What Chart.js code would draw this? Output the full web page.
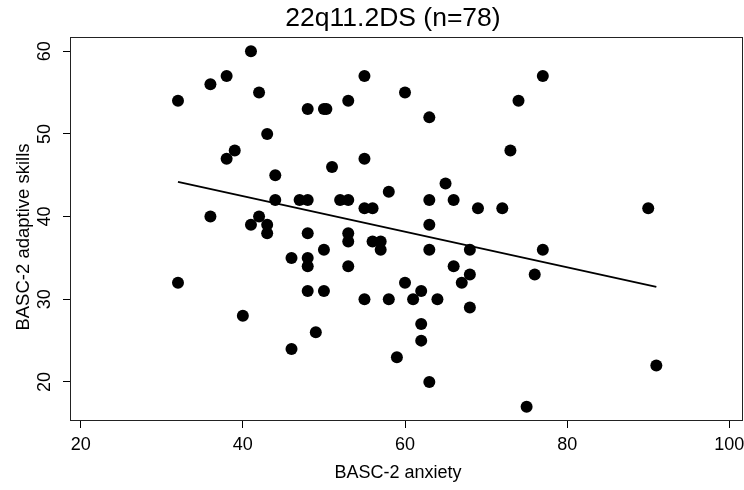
<!DOCTYPE html>
<html><head><meta charset="utf-8">
<script src="https://cdn.jsdelivr.net/npm/chart.js@4/dist/chart.umd.min.js"></script>
<style>html,body{margin:0;padding:0;background:#fff;} canvas{display:block;}</style>
</head><body>
<canvas id="c" width="744" height="490"></canvas>
<script>
const chartTitle = '22q11.2DS (n=78)';
const xAxisTitle = 'BASC-2 anxiety';
const yAxisTitle = 'BASC-2 adaptive skills';

const anxiety = [41,36,38,32,42,48,50,50.3,53,43,39,38,51,44,44,47,48,52,53,36,42,41,43,
  55,60,63,74,77,55,73,65,58,63,66,55,56,69,72,63,90,
  43,48,53,53,50,46,48,48,53,32,48,50,40,49,46,
  56,57,57,63,68,66,68,67,76,60,62,55,58,61,64,68,62,62,59,63,75,77,91];
const adaptive = [60,56,57,54,55,53,53,53,54,50,48,47,46,45,42,42,42,42,42,40,40,39,39,
  57,55,52,54,57,47,48,44,43,42,42,41,41,41,41,39,41,
  38,38,38,37,36,35,35,34,34,32,31,31,28,26,24,
  37,37,36,36,36,34,33,32,33,32,31,30,30,30,30,29,27,25,23,20,17,36,22];

const fitX = [32, 91];
const fitY = [44.2, 31.5];

const xTicks = [20, 40, 60, 80, 100];
const yTicks = [20, 30, 40, 50, 60];

const FONT = '"Liberation Sans", Arial, Helvetica, sans-serif';

const points = anxiety.map((x, i) => ({x: x, y: adaptive[i]}));
const fitLine = fitX.map((x, i) => ({x: x, y: fitY[i]}));

const boxPlugin = {
  id: 'box',
  beforeDatasetsDraw(chart) {
    const a = chart.chartArea, ctx = chart.ctx;
    ctx.save();
    ctx.strokeStyle = '#222';
    ctx.lineWidth = 1;
    ctx.strokeRect(a.left + 0.5, a.top + 0.5, a.right - a.left - 1, a.bottom - a.top - 1);
    ctx.restore();
  }
};
const textPlugin = {
  id: 'texts',
  afterDraw(chart) {
    const ctx = chart.ctx;
    ctx.save();
    ctx.fillStyle = '#000';
    ctx.textAlign = 'center';
    ctx.textBaseline = 'middle';
    ctx.font = '26.5px ' + FONT;
    ctx.fillText(chartTitle, 393, 19);
    ctx.font = '18px ' + FONT;
    ctx.fillText(xAxisTitle, 398, 473);
    ctx.translate(24, 237);
    ctx.rotate(-Math.PI / 2);
    ctx.font = '18.5px ' + FONT;
    ctx.fillText(yAxisTitle, 0, 0);
    ctx.restore();
  }
};

new Chart(document.getElementById('c'), {
  type: 'scatter',
  data: {
    datasets: [
      {
        type: 'scatter',
        data: points,
        backgroundColor: '#000',
        borderColor: '#000',
        borderWidth: 0,
        pointRadius: 6,
        pointHoverRadius: 6
      },
      {
        type: 'line',
        data: fitLine,
        borderColor: '#000',
        borderWidth: 2,
        pointRadius: 0,
        fill: false,
        tension: 0
      }
    ]
  },
  options: {
    responsive: false,
    devicePixelRatio: 1,
    animation: false,
    layout: {autoPadding: false, padding: {top: 37, right: 1, left: 0, bottom: 0}},
    plugins: {legend: {display: false}, tooltip: {enabled: false}, title: {display: false}},
    scales: {
      x: {
        type: 'linear',
        min: 18.68,
        max: 101.69,
        afterBuildTicks: s => { s.ticks = xTicks.map(v => ({value: v})); },
        afterFit: s => { s.height = 69; s.paddingLeft = 0; s.paddingRight = 0; },
        grid: {display: true, drawOnChartArea: false, drawTicks: true, tickLength: 7, color: '#000', lineWidth: 1},
        border: {display: false},
        ticks: {font: {family: FONT, size: 18}, color: '#000', padding: 6, maxRotation: 0, autoSkip: false},
        title: {display: false, text: xAxisTitle}
      },
      y: {
        type: 'linear',
        min: 15.28,
        max: 61.72,
        afterBuildTicks: s => { s.ticks = yTicks.map(v => ({value: v})); },
        afterFit: s => { s.width = 70; s.paddingTop = 0; s.paddingBottom = 0; },
        grid: {display: true, drawOnChartArea: false, drawTicks: true, tickLength: 7, color: '#000', lineWidth: 1},
        border: {display: false},
        ticks: {font: {family: FONT, size: 18}, color: '#000', padding: 8, minRotation: 90, maxRotation: 90, crossAlign: 'center', autoSkip: false},
        title: {display: false, text: yAxisTitle}
      }
    }
  },
  plugins: [boxPlugin, textPlugin]
});
</script>
</body></html>
